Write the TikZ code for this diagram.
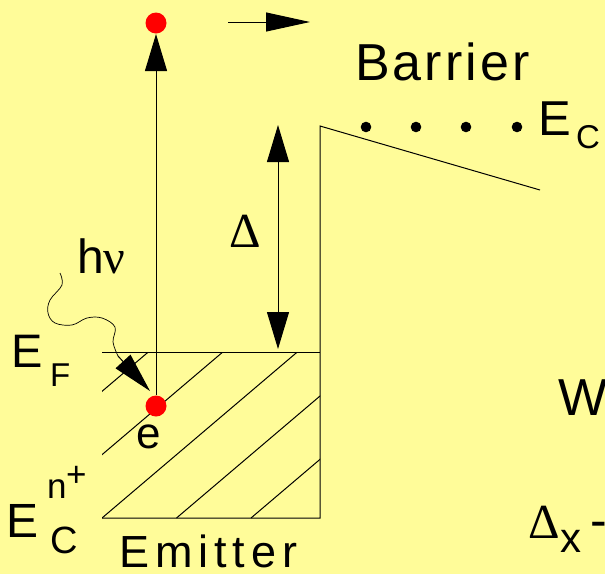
\documentclass[tikz,border=0pt]{standalone}
\usepackage{fontspec}
\setmainfont{Liberation Sans}
\newfontfamily\greekfont{Liberation Serif}
\newfontfamily\widefont[LetterSpace=6]{Liberation Sans}
\newfontfamily\widerfont[LetterSpace=13]{Liberation Sans}
\usetikzlibrary{arrows.meta, positioning, calc}
\definecolor{paleyellow}{RGB}{255,252,153}
\newcommand{\fsz}[1]{\fontsize{#1}{#1}\selectfont}

\begin{document}
\begin{tikzpicture}[x=1pt, y=-1pt, line width=1pt,
  txt/.style={anchor=base west, inner sep=0pt, outer sep=0pt},
  bigtip/.style={-{Triangle[length=37pt,width=22pt]}},
  eldot/.style={circle, fill=red, inner sep=0pt, minimum size=21pt}]
  \useasboundingbox (0,0) rectangle (605,574);
  \fill[paleyellow] (0,0) rectangle (605,574);
  \clip (0,0) rectangle (605,574);

  % Band edges
  \coordinate (peak) at (320,126);
  \coordinate (slopeEnd) at (540,190);
  \coordinate (base) at (320,518);
  \coordinate (efL) at (102,352);
  \coordinate (efR) at (320,352);
  \coordinate (ecL) at (102,518);
  \draw (slopeEnd) -- (peak) -- (base) -- (ecL);
  \draw (efL) -- (efR);

  % Filled states (hatching)
  \begin{scope}
    \clip (efL) rectangle (base);
    \foreach \k in {-2,...,2}
      \draw (102+74.5*\k,518) -- ++(250,-212.5);
  \end{scope}

  % Conduction band edge of the barrier
  \foreach \x in {366,416,466,517}
    \fill (\x,127) circle[radius=5.3];

  % Electron excited by the photon
  \node[eldot] (top) at (156,23) {};
  \node[eldot] (elec) at (156,406) {};
  \draw[bigtip] (elec) -- (top);

  % Photon
  \coordinate (ptip) at (150,391);
  \draw[line width=0.7pt] plot[smooth, tension=0.6] coordinates {(60,273) (62,285) (50,300) (48,313) (55,323) (72,325) (87,318) (102,318) (115,327) (113,342) (118,356)};
  \draw[-{Triangle[length=40pt,width=20pt]}] (118,356) -- (ptip);

  % Barrier height
  \coordinate (dtop) at (278,125);
  \coordinate (dbot) at (278,349);
  \draw[{Triangle[length=37pt,width=22pt]}-{Triangle[length=37pt,width=22pt]}] (dtop) -- (dbot);

  % Direction of motion
  \coordinate (mvA) at (228,22);
  \coordinate (mvB) at (310,22);
  \draw[-{Triangle[length=44pt,width=19pt]}] (mvA) -- (mvB);

  % Labels
  \node[txt, font=\widefont\fsz{52}] (barrier) at (355,80) {Barrier};
  \node[txt, font=\fsz{49}] (ecE) at (538,135) {E};
  \node[txt, font=\fsz{33}] (ecSub) at (576,148) {C};
  \node[txt, font=\greekfont\fsz{49}] (gap) at (229,247) {Δ};
  \node[txt, font=\fsz{48}] (hnu) at (77,273) {h{\greekfont ν}};
  \node[txt, font=\fsz{47}] (efE) at (11,367) {E};
  \node[txt, font=\fsz{33}] (efSub) at (50,386) {F};
  \node[txt, font=\fsz{44}] (eLab) at (136,448) {e};
  \node[txt, font=\fsz{48}] (enE) at (6,537) {E};
  \node[txt, font=\fsz{38}] (enSub) at (50,553) {C};
  \node[txt, font=\fsz{35}] (enN) at (47,498) {n};
  \node[txt, font=\fsz{35}] (enPlus) at (66,486) {+};
  \node[txt, font=\widerfont\fsz{45}] (emitter) at (119.5,567) {Emitter};
  \node[txt, font=\fsz{52}] (wLab) at (558,415) {W};
  \node[txt, font=\greekfont\fsz{49}] (dx) at (528,538) {Δ};
  \node[txt, font=\fsz{42}] (dxSub) at (560,552) {x};
  \node[txt, font=\fsz{50}] (dxDash) at (590,537) {-};
\end{tikzpicture}
\end{document}
